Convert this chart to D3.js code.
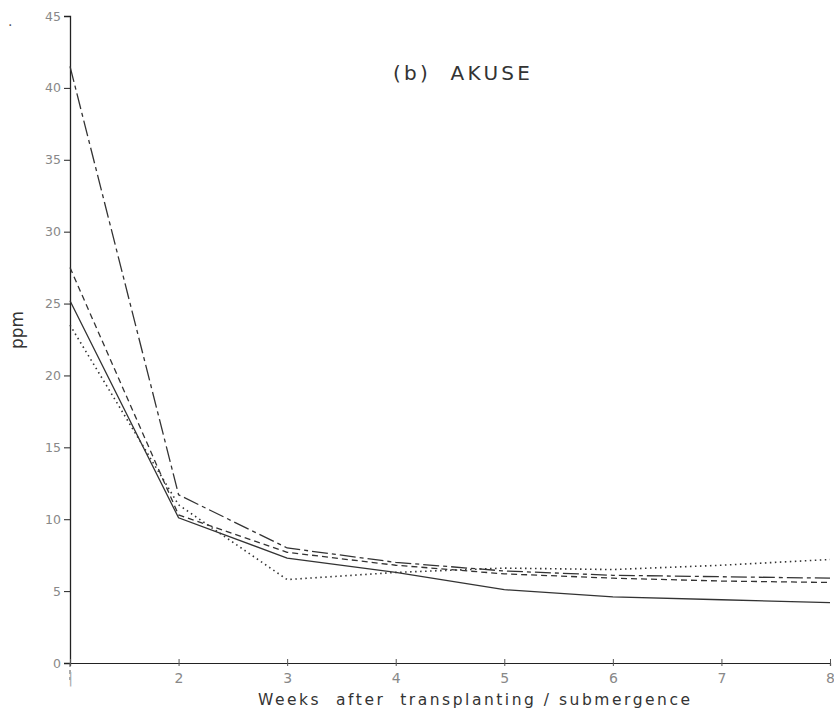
<!DOCTYPE html>
<html>
<head>
<meta charset="utf-8">
<script src="https://cdn.jsdelivr.net/npm/d3@7"></script>
<style>
  html, body { margin: 0; padding: 0; background: #fff; }
  svg { display: block; }
</style>
</head>
<body>
<svg id="chart" width="834" height="717"></svg>
<script>
// ---- data ----
const weeks = [1, 2, 3, 4, 5, 6, 7, 8];
const seriesLongDash  = [41.5, 11.7, 8.0, 7.0, 6.4, 6.1, 6.0, 5.9];
const seriesShortDash = [27.5, 10.3, 7.7, 6.8, 6.2, 5.9, 5.7, 5.6];
const seriesSolid     = [25.2, 10.1, 7.3, 6.3, 5.1, 4.6, 4.4, 4.2];
const seriesDotted    = [23.5, 11.0, 5.8, 6.3, 6.6, 6.5, 6.8, 7.2];
const yTicks = [0, 5, 10, 15, 20, 25, 30, 35, 40, 45];
const xTicks = [1, 2, 3, 4, 5, 6, 7, 8];
const title = "(b)  AKUSE";
const yLabel = "ppm";
const xLabel = "Weeks  after  transplanting / submergence";

const series = [
  { name: "longdash", values: seriesLongDash, dash: "16,4,4,4" },
  { name: "shortdash", values: seriesShortDash, dash: "6,4" },
  { name: "solid", values: seriesSolid, dash: null },
  { name: "dotted", values: seriesDotted, dash: "1.5,3.5" }
];

const svg = d3.select("#chart");
const x = d3.scaleLinear().domain([1, 8]).range([70, 830]);
const y = d3.scaleLinear().domain([0, 45]).range([663, 16]);

const axisColor = "#222";
const labelColor = "#888";

// y axis
const gy = svg.append("g").attr("transform", `translate(${x(1)},0)`)
  .call(d3.axisLeft(y).tickValues(yTicks).tickSize(6).tickPadding(3).tickFormat(d3.format("d")));
gy.select(".domain").attr("stroke", axisColor).attr("stroke-width", 1.3);
gy.selectAll(".tick line").attr("stroke", axisColor).attr("stroke-width", 1);
gy.selectAll(".tick text").attr("fill", labelColor)
  .style("font-family", "DejaVu Sans, sans-serif").style("font-size", "12.5px");

// extension of y axis below zero
svg.append("line").attr("x1", x(1)).attr("x2", x(1))
  .attr("y1", y(0)).attr("y2", y(0) + 17)
  .attr("stroke", "#555").attr("stroke-width", 1).attr("stroke-dasharray", "4,3");

// x axis
const gx = svg.append("g").attr("transform", `translate(0,${y(0)})`)
  .call(d3.axisBottom(x).tickValues(xTicks).tickSize(3).tickPadding(7).tickFormat(d3.format("d")));
gx.select(".domain").attr("stroke", axisColor).attr("stroke-width", 1.2);
gx.selectAll(".tick line").attr("stroke", "#555").attr("stroke-width", 1).attr("y1", -4);
gx.selectAll(".tick text").attr("fill", labelColor)
  .style("font-family", "DejaVu Sans, sans-serif").style("font-size", "14px");
gx.selectAll(".tick").filter(d => d === 1).select("text").attr("fill", "#aaa").text("|");

// lines
const line = d3.line().x((d, i) => x(weeks[i])).y(d => y(d));
svg.append("g").selectAll("path").data(series).join("path")
  .attr("d", d => line(d.values))
  .attr("fill", "none")
  .attr("stroke", "#333")
  .attr("stroke-width", d => d.name === "dotted" ? 1.6 : 1.3)
  .attr("stroke-dasharray", d => d.dash);

// title
svg.append("text").attr("x", 393).attr("y", 80)
  .attr("fill", "#333")
  .style("font-family", "DejaVu Sans, sans-serif").style("font-size", "20px")
  .attr("textLength", 137).attr("lengthAdjust", "spacing")
  .attr("xml:space", "preserve")
  .text(title);

// y label
svg.append("text")
  .attr("transform", `translate(23,330) rotate(-90)`)
  .attr("text-anchor", "middle")
  .attr("fill", "#333")
  .style("font-family", "DejaVu Sans, sans-serif").style("font-size", "17px")
  .text(yLabel);

// x label
svg.append("text").attr("x", 258).attr("y", 705)
  .attr("fill", "#333")
  .style("font-family", "DejaVu Sans, sans-serif").style("font-size", "15.5px")
  .attr("textLength", 432).attr("lengthAdjust", "spacing")
  .attr("xml:space", "preserve")
  .text(xLabel);

// stray dot
svg.append("text").attr("x", 8).attr("y", 26).attr("fill", "#555")
  .style("font-family", "DejaVu Sans, sans-serif").style("font-size", "14px").text(".");
</script>
</body>
</html>
